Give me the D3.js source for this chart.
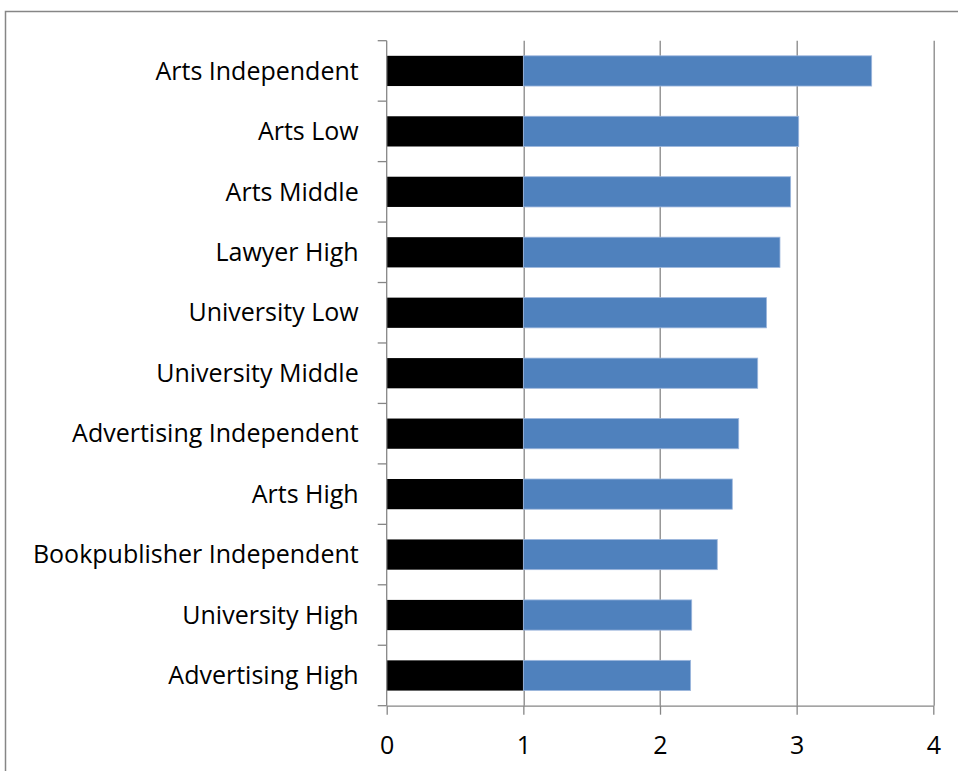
<!DOCTYPE html>
<html>
<head>
<meta charset="utf-8">
<script src="https://cdn.jsdelivr.net/npm/d3@7"></script>
<style>
  html, body { margin: 0; padding: 0; background: #fff; }
  svg { display: block; }
  text { font-family: "Open Sans", "Noto Sans", sans-serif; fill: #000; }
</style>
</head>
<body>
<svg id="chart" width="958" height="771"></svg>
<script>
// Categories, top to bottom
const categories = [
  "Arts Independent",
  "Arts Low",
  "Arts Middle",
  "Lawyer High",
  "University Low",
  "University Middle",
  "Advertising Independent",
  "Arts High",
  "Bookpublisher Independent",
  "University High",
  "Advertising High"
];

// Baseline segment (black) for every category
const baseValues = [1, 1, 1, 1, 1, 1, 1, 1, 1, 1, 1];

// Total score reached by each category (blue segment runs from the baseline to here)
const scoreValues = [3.549, 3.015, 2.956, 2.878, 2.780, 2.715, 2.576, 2.529, 2.419, 2.232, 2.224];

// X axis ticks
const xTicks = [0, 1, 2, 3, 4];

const svg = d3.select("#chart");
const W = 958, H = 771;
const margin = { left: 386.7, top: 40.7, right: W - 933.3, bottom: H - 705.7 };
const plotW = W - margin.left - margin.right;
const plotH = H - margin.top - margin.bottom;
const axisColor = "#868686";
const fontSize = "25px";

// Outer chart frame
svg.append("rect")
  .attr("x", 5.5).attr("y", 11.5)
  .attr("width", 1200).attr("height", 1200)
  .attr("fill", "none")
  .attr("stroke", axisColor)
  .attr("stroke-width", 1.5);

const g = svg.append("g").attr("transform", `translate(${margin.left},${margin.top})`);

const x = d3.scaleLinear().domain([0, 4]).range([0, plotW]);
const y = d3.scaleBand().domain(categories).range([0, plotH]).paddingInner(0.5).paddingOuter(0.25);

// Vertical gridlines
g.append("g")
  .selectAll("line")
  .data(xTicks.filter(t => t > 0))
  .join("line")
  .attr("x1", d => Math.round(x(d)) + 0.5).attr("x2", d => Math.round(x(d)) + 0.5)
  .attr("y1", 0).attr("y2", plotH)
  .attr("stroke", axisColor)
  .attr("stroke-width", 1.3);

const rows = categories.map((c, i) => ({ cat: c, base: baseValues[i], score: scoreValues[i] }));

// Black baseline segments
g.append("g")
  .selectAll("rect")
  .data(rows)
  .join("rect")
  .attr("x", x(0))
  .attr("y", d => y(d.cat))
  .attr("width", d => x(d.base) - x(0))
  .attr("height", y.bandwidth())
  .attr("fill", "#000");

// Blue segments from baseline to total
g.append("g")
  .selectAll("rect")
  .data(rows)
  .join("rect")
  .attr("x", d => x(d.base))
  .attr("y", d => y(d.cat))
  .attr("width", d => x(d.score) - x(d.base))
  .attr("height", y.bandwidth())
  .attr("fill", "#4F81BD")
  .attr("stroke", "#9DB7DD")
  .attr("stroke-width", 0.8);

// X axis
const xAxis = g.append("g")
  .attr("transform", `translate(0,${plotH})`)
  .call(d3.axisBottom(x).tickValues(xTicks).tickFormat(d3.format("d")).tickSizeInner(9).tickSizeOuter(0).tickPadding(22));
xAxis.select(".domain").attr("stroke", axisColor).attr("stroke-width", 1.3);
xAxis.selectAll(".tick line").attr("stroke", axisColor).attr("stroke-width", 1.3);
xAxis.selectAll("text").attr("font-size", fontSize).attr("fill", "#000");

// Y axis: ticks sit on band boundaries, labels at band centres
const yAxisG = g.append("g");
yAxisG.append("line")
  .attr("x1", 0).attr("x2", 0).attr("y1", 0).attr("y2", plotH)
  .attr("stroke", axisColor).attr("stroke-width", 1.3);
const boundaries = d3.range(categories.length + 1).map(i => i * plotH / categories.length);
yAxisG.selectAll("line.tk")
  .data(boundaries)
  .join("line")
  .attr("class", "tk")
  .attr("x1", -9).attr("x2", 0)
  .attr("y1", d => d).attr("y2", d => d)
  .attr("stroke", axisColor).attr("stroke-width", 1.3);
yAxisG.selectAll("text")
  .data(categories)
  .join("text")
  .attr("x", -28)
  .attr("y", d => y(d) + y.bandwidth() / 2)
  .attr("dy", "0.35em")
  .attr("text-anchor", "end")
  .attr("font-size", fontSize)
  .text(d => d);
</script>
</body>
</html>
